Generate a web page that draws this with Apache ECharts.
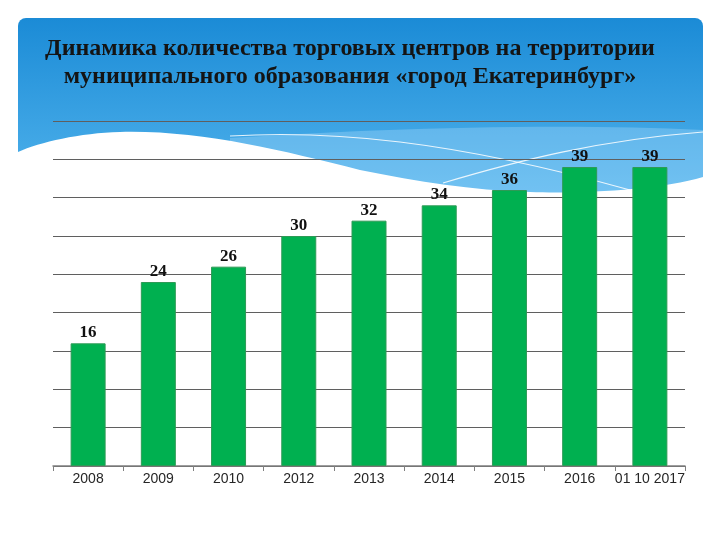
<!DOCTYPE html>
<html>
<head>
<meta charset="utf-8">
<script src="https://cdn.jsdelivr.net/npm/echarts@6/dist/echarts.min.js"></script>
<style>
  html, body { margin: 0; padding: 0; background: #fff; }
  #chart { width: 720px; height: 540px; }
</style>
</head>
<body>
<div id="chart"></div>
<script>
// Data
const years = ["2008", "2009", "2010", "2012", "2013", "2014", "2015", "2016", "01 10 2017"];
const centres = [16, 24, 26, 30, 32, 34, 36, 39, 39];

const titleText = "Динамика количества торговых центров на территории\nмуниципального образования «город Екатеринбург»";

// decorative shapes of the blue header
echarts.graphic.registerShape('lightBand', echarts.graphic.extendPath(
    'M 230 138 C 350 130 550 122 703 130 L 703 205 L 230 205 Z'));
echarts.graphic.registerShape('streak1', echarts.graphic.extendPath(
    'M 230 136 C 330 130 450 140 630 190'));
echarts.graphic.registerShape('streak2', echarts.graphic.extendPath(
    'M 443 183 C 520 160 600 140 703 132'));
echarts.graphic.registerShape('whiteWave', echarts.graphic.extendPath(
    'M 18 152 C 40 142 80 133 120 132 C 200 130 280 150 360 170 ' +
    'C 420 182 470 190 530 192 C 580 194 660 190 703 177 L 703 212 L 18 212 Z'));

document.addEventListener("DOMContentLoaded", function () {
    var chart = echarts.init(document.getElementById("chart"));

    var background = [
        {
            type: 'rect', z: -30, silent: true,
            shape: { x: 18, y: 18, width: 685, height: 190, r: [8, 8, 0, 0] },
            style: {
                fill: new echarts.graphic.LinearGradient(0, 0, 0, 1, [
                    { offset: 0, color: '#1b8bd6' },
                    { offset: 1, color: '#55b6ee' }
                ])
            }
        },
        { type: 'lightBand', z: -29, silent: true, style: { fill: 'rgba(190,230,255,0.3)' } },
        { type: 'streak1', z: -28, silent: true, style: { fill: 'none', stroke: 'rgba(255,255,255,0.85)', lineWidth: 1.2 } },
        { type: 'streak2', z: -28, silent: true, style: { fill: 'none', stroke: 'rgba(255,255,255,0.85)', lineWidth: 1.2 } },
        { type: 'whiteWave', z: -27, silent: true, style: { fill: '#ffffff' } }
    ];

    var option = {
        backgroundColor: '#ffffff',
        animation: false,
        graphic: background,
        title: {
            text: titleText,
            left: 345,
            top: 30,
            textAlign: 'center',
            textStyle: {
                fontFamily: 'Liberation Serif',
                fontWeight: 'bold',
                fontSize: 24,
                lineHeight: 28,
                color: '#141414'
            }
        },
        grid: { left: 53, right: 35, top: 121, bottom: 74 },
        xAxis: {
            type: 'category',
            data: years,
            axisLine: { lineStyle: { color: '#7f7f7f', width: 1.5 } },
            axisTick: { show: true, length: 5, lineStyle: { color: '#7f7f7f' } },
            axisLabel: {
                interval: 0,
                margin: 6,
                fontFamily: 'Liberation Sans',
                fontSize: 14,
                color: '#262626'
            }
        },
        yAxis: {
            type: 'value',
            min: 0,
            max: 45,
            interval: 5,
            axisLabel: { show: false },
            axisLine: { show: false },
            axisTick: { show: false },
            splitLine: { lineStyle: { color: '#5f5f5f', width: 1 } }
        },
        series: [{
            type: 'bar',
            data: centres,
            barWidth: 35,
            itemStyle: {
                color: '#00b050',
                borderColor: '#2e9a56',
                borderWidth: 1
            },
            label: {
                show: true,
                position: 'top',
                distance: 2,
                fontFamily: 'Liberation Serif',
                fontWeight: 'bold',
                fontSize: 17,
                color: '#111'
            }
        }]
    };

    chart.setOption(option);
});
</script>
</body>
</html>
